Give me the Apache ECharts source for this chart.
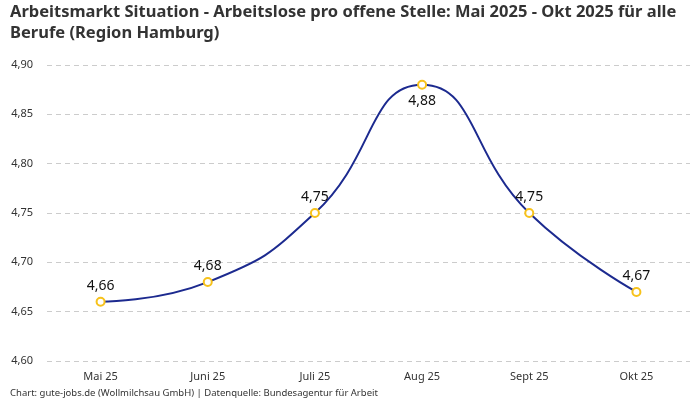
<!DOCTYPE html>
<html><head><meta charset="utf-8">
<script src="https://cdn.jsdelivr.net/npm/echarts@6/dist/echarts.min.js"></script>
<style>html,body{margin:0;padding:0;background:#fff}#c{width:700px;height:400px}</style>
</head><body><div id="c"></div>
<script>
const categories = ["Mai 25","Juni 25","Juli 25","Aug 25","Sept 25","Okt 25"];
const values = [4.66, 4.68, 4.75, 4.88, 4.75, 4.67];
const titleText = "Arbeitsmarkt Situation - Arbeitslose pro offene Stelle: Mai 2025 - Okt 2025 für alle\nBerufe (Region Hamburg)";
const footerText = "Chart: gute-jobs.de (Wollmilchsau GmbH) | Datenquelle: Bundesagentur für Arbeit";
const fmt = v => v.toFixed(2).replace('.', ',');
const font = "'Noto Sans', 'Open Sans', sans-serif";
const chart = echarts.init(document.getElementById('c'));
chart.setOption({
  animation:false,
  textStyle:{fontFamily:font},
  title:[{text:titleText,left:10,top:2,padding:0,textStyle:{fontFamily:font,fontSize:16.5,fontWeight:'bold',color:'#333',lineHeight:21}},
         {text:footerText,left:10,bottom:2,padding:0,textStyle:{fontFamily:font,fontSize:9.5,fontWeight:'normal',color:'#333'}}],
  grid:{left:47,right:10,top:65,bottom:39},
  xAxis:{type:'category',data:categories,boundaryGap:true,
    axisLine:{show:false},axisTick:{show:false},
    axisLabel:{color:'#333',fontSize:11,margin:10}},
  yAxis:{type:'value',min:4.60,max:4.90,interval:0.05,
    axisLabel:{color:'#333',fontSize:11,formatter:fmt,margin:14},
    splitLine:{lineStyle:{type:[5,4],color:'#ccc'}}},
  series:[{type:'line',data:values,smooth:0.5,
    lineStyle:{color:'#1c2a8f',width:2},
    symbol:'circle',symbolSize:8,
    itemStyle:{color:'#fff',borderColor:'#f7c21b',borderWidth:2},
    label:{show:true,position:'top',distance:4,fontSize:14,color:'#111',formatter:p=>fmt(p.value)},
    data:values.map((v,i)=> i===3 ? {value:v,label:{position:'bottom',distance:4}} : v)
  }]
});
</script></body></html>
